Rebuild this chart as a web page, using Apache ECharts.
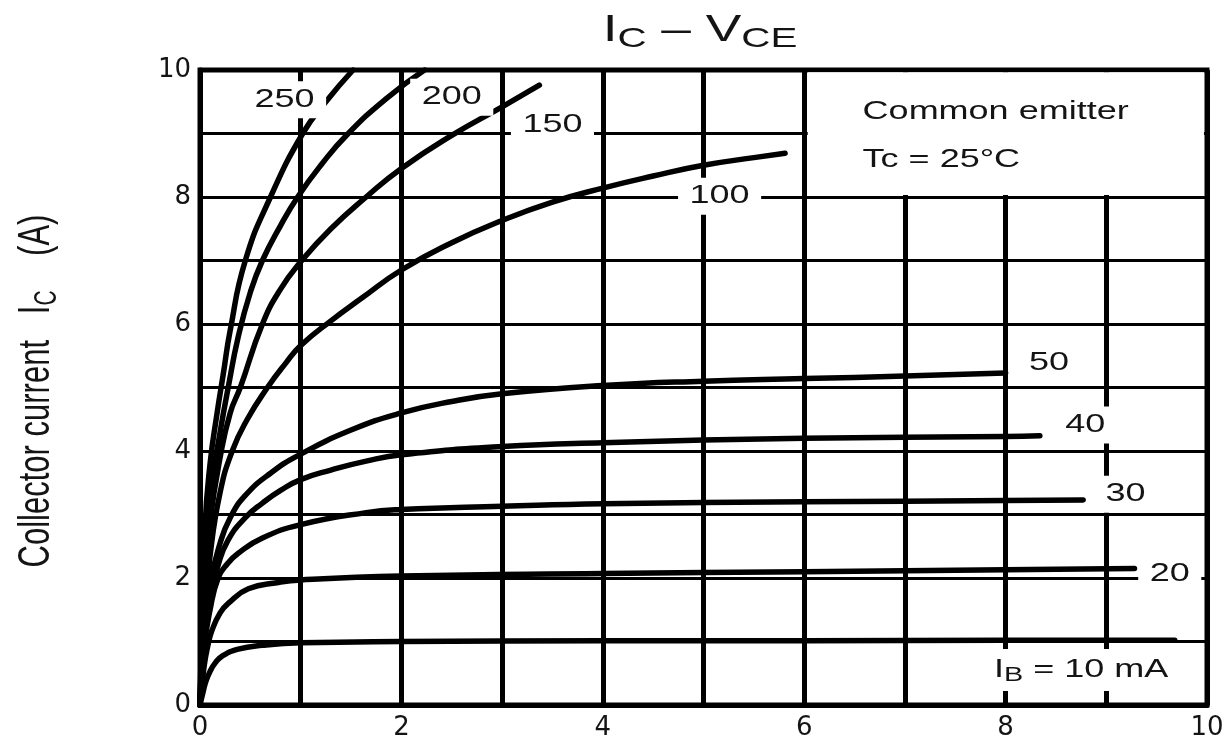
<!DOCTYPE html>
<html><head><meta charset="utf-8">
<script src="https://cdn.jsdelivr.net/npm/echarts@6/dist/echarts.min.js"></script>
<style>html,body{margin:0;padding:0;background:#fff}#c{width:1231px;height:746px}</style>
</head><body><div id="c"></div>
<script>
// ---- data ----
const seriesNames = ['10 mA','20 mA','30 mA','40 mA','50 mA','100 mA','150 mA','200 mA','250 mA'];
const ib10 = [[0,0],[0.03,0.2],[0.06,0.38],[0.1,0.53],[0.15,0.66],[0.22,0.77],[0.38,0.88],[0.62,0.94],[1,0.98],[2,1.0],[4,1.01],[6,1.01],[8,1.02],[9.68,1.02]];
const ib20 = [[0,0],[0.04,0.6],[0.08,0.95],[0.12,1.18],[0.2,1.45],[0.28,1.6],[0.48,1.83],[0.78,1.93],[1,1.97],[2,2.03],[4,2.07],[6,2.1],[8,2.13],[9.28,2.15]];
const ib30 = [[0,0],[0.04,0.9],[0.1,1.5],[0.18,2.0],[0.27,2.22],[0.38,2.39],[0.62,2.63],[1,2.84],[1.65,3.03],[2,3.08],[3,3.13],[4,3.17],[6,3.2],[8,3.22],[8.77,3.23]];
const ib40 = [[0,0],[0.04,0.95],[0.1,1.65],[0.18,2.2],[0.28,2.6],[0.45,2.95],[0.62,3.18],[0.8,3.38],[1,3.55],[1.3,3.7],[1.65,3.84],[2,3.94],[3,4.07],[4,4.13],[6,4.2],[8,4.23],[8.34,4.24]];
const ib50 = [[0,0],[0.04,1.05],[0.1,1.9],[0.2,2.55],[0.3,2.95],[0.45,3.3],[0.7,3.65],[1,3.95],[1.5,4.33],[2,4.6],[2.5,4.78],[3,4.9],[4,5.03],[5,5.1],[6,5.14],[7,5.18],[8,5.23]];
const ib100 = [[0,0],[0.04,1.3],[0.1,2.35],[0.2,3.35],[0.32,4.0],[0.47,4.5],[0.67,5.0],[0.85,5.38],[1,5.66],[1.3,6.05],[1.6,6.4],[2,6.85],[2.5,7.28],[3,7.63],[3.5,7.92],[4,8.14],[4.5,8.33],[5,8.5],[5.5,8.62],[5.81,8.69]];
const ib150 = [[0,0],[0.05,2.0],[0.1,2.9],[0.2,3.9],[0.3,4.6],[0.4,5.0],[0.62,6.0],[0.8,6.55],[1,6.98],[1.3,7.5],[1.65,8.0],[2,8.45],[2.5,8.97],[3,9.42],[3.37,9.76]];
const ib200 = [[0,0],[0.05,2.3],[0.1,3.3],[0.2,4.3],[0.28,5.0],[0.38,5.8],[0.5,6.5],[0.62,7.0],[0.8,7.55],[0.97,8.0],[1.2,8.5],[1.46,8.98],[1.85,9.55],[2.23,10]];
const ib250 = [[0,0],[0.05,2.8],[0.1,3.8],[0.17,4.6],[0.23,5.2],[0.3,5.9],[0.45,7.0],[0.7,8.0],[1.02,9.0],[1.25,9.5],[1.52,10]];
const xTickLabels = ['0','2','4','6','8','10'];
const yTickLabels = ['0','2','4','6','8','10'];
const curveLabels = ['{t|I}{s|B}{t| = 10 mA}','20','30','40','50','100','150','200','250'];
const noteLines = ['Common emitter','Tc = 25°C'];
const titleText = '{a|I}{b|C}{a| \u2013 V}{b|CE}';
const yAxisTitle = '{a|Collector current   I}{b|C}{a|    (A)}';

// ---- annotation placement (data coordinates) ----
const curveLabelAt = [[8.75,0.55],[9.63,2.06],[9.19,3.32],[8.79,4.41],[8.43,5.39],[5.16,8.01],[3.5,9.13],[2.5,9.57],[0.84,9.53]];
const noteAt = [[6.58,9.34],[6.58,8.58]];

const FONT = "'Liberation Sans', Arial, Helvetica, sans-serif";
const INK = '#141414';
const allData = [ib10, ib20, ib30, ib40, ib50, ib100, ib150, ib200, ib250];

const chart = echarts.init(document.getElementById('c'), null, {renderer:'canvas'});

const series = allData.map((d, i) => ({
  name: seriesNames[i], type: 'line', data: d, smooth: 0.5,
  showSymbol: false, symbol: 'none', z: 3,
  lineStyle: {color: '#000', width: 5.5, cap: 'round', join: 'round'},
  emphasis: {disabled: true}
}));
// white note box in upper right (covers grid there)
series[0].markArea = {
  silent: true, z: 2,
  itemStyle: {color: '#fff', opacity: 1},
  data: [[{coord: [6.035, 8.03]}, {coord: [9.97, 9.965]}]]
};

chart.setOption({
  animation: false,
  backgroundColor: '#fff',
  grid: {left: 200, right: 24, top: 70, bottom: 41, show: true, borderColor: '#000', borderWidth: 5, backgroundColor: 'transparent'},
  xAxis: {
    type: 'value', min: 0, max: 10, interval: 1,
    axisLine: {show: true, lineStyle: {color: '#000', width: 5}},
    axisTick: {show: false},
    axisLabel: {margin: 10, fontSize: 26, fontFamily: "'DejaVu Sans', sans-serif", color: INK,
      formatter: v => xTickLabels.includes(String(v)) ? String(v) : ''},
    splitLine: {show: true, lineStyle: {color: '#000', width: 5}}
  },
  yAxis: {
    type: 'value', min: 0, max: 10, interval: 1,
    axisLine: {show: true, lineStyle: {color: '#000', width: 5}},
    axisTick: {show: false},
    axisLabel: {margin: 9, fontSize: 26, fontFamily: "'DejaVu Sans', sans-serif", color: INK,
      formatter: v => yTickLabels.includes(String(v)) ? String(v) : ''},
    splitLine: {show: true, lineStyle: {color: '#000', width: 3}}
  },
  series: series
});

const px = p => chart.convertToPixel({gridIndex: 0}, p);
const SX = 1.44;
const graphics = [];
// title
graphics.push({
  type: 'text', x: 700, y: 31, scaleX: SX, z: 20,
  style: {text: titleText, align: 'center', verticalAlign: 'middle',
    rich: {a: {fontSize: 37, fontFamily: FONT, fill: INK, lineHeight: 44},
           b: {fontSize: 28, fontFamily: FONT, fill: INK, lineHeight: 30, verticalAlign: 'bottom'}}}
});
// y axis title (rotated)
graphics.push({
  type: 'text', x: 37, y: 391, rotation: Math.PI / 2, scaleY: 1.45, z: 20,
  style: {text: yAxisTitle, align: 'center', verticalAlign: 'middle',
    rich: {a: {fontSize: 31, fontFamily: FONT, fill: INK, lineHeight: 36},
           b: {fontSize: 21, fontFamily: FONT, fill: INK, lineHeight: 24, verticalAlign: 'bottom'}}}
});
// curve labels with white backgrounds
curveLabels.forEach((t, i) => {
  const p = px(curveLabelAt[i]);
  graphics.push({
    type: 'text', x: p[0], y: p[1], scaleX: SX, z: 20,
    style: {text: t, align: 'center', verticalAlign: 'middle', backgroundColor: '#fff', padding: [6, 8],
      fontSize: 25, fontFamily: FONT, fill: INK,
      rich: {t: {fontSize: 25, fontFamily: FONT, fill: INK, lineHeight: 30},
             s: {fontSize: 20, fontFamily: FONT, fill: INK, lineHeight: 22, verticalAlign: 'bottom'}}}
  });
});
// note text
noteLines.forEach((t, i) => {
  const p = px(noteAt[i]);
  graphics.push({
    type: 'text', x: p[0], y: p[1], scaleX: SX, z: 20,
    style: {text: t, align: 'left', verticalAlign: 'middle', fontSize: 25, fontFamily: FONT, fill: INK}
  });
});
chart.setOption({graphic: graphics});
</script>
</body></html>
